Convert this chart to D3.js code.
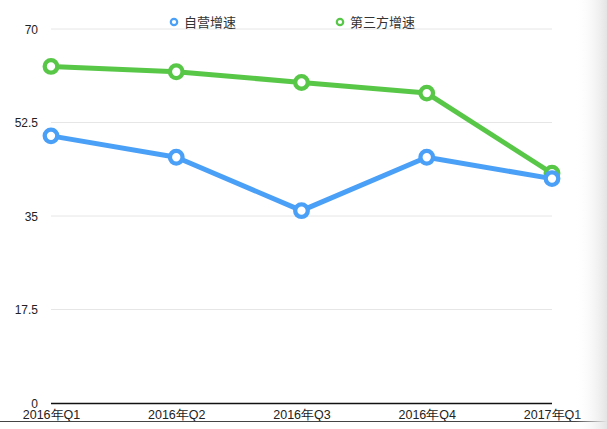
<!DOCTYPE html>
<html><head><meta charset="utf-8">
<script src="https://cdn.jsdelivr.net/npm/d3@7"></script>
<style>
html,body{margin:0;padding:0;background:#fff;}
svg{display:block;font-family:"Liberation Sans","Noto Sans CJK SC",Arial,sans-serif;}
</style></head>
<body><svg id="c" width="607" height="429"></svg>
<script>
const categories = ["2016年Q1","2016年Q2","2016年Q3","2016年Q4","2017年Q1"];
const seriesNames = ["自营增速","第三方增速"];
const selfGrowth = [50, 46, 36, 46, 42];
const thirdGrowth = [63, 62, 60, 58, 43];
const yTicks = [0, 17.5, 35, 52.5, 70];
const colors = ["#4a9ff7", "#58c748"];

const svg = d3.select("#c");
const defs = svg.append("defs");
const grad = defs.append("linearGradient").attr("id","edge").attr("x1","0").attr("x2","1").attr("y1","0").attr("y2","0");
grad.append("stop").attr("offset","0").attr("stop-color","#fff").attr("stop-opacity",0);
grad.append("stop").attr("offset","1").attr("stop-color","#e4e4e4").attr("stop-opacity",1);

const x = d3.scalePoint().domain(categories).range([51, 552]).padding(0);
const y = d3.scaleLinear().domain([0, 70]).range([403, 29]);

// grid
svg.append("g").selectAll("line").data(yTicks.filter(d=>d>0)).join("line")
  .attr("x1",51).attr("x2",552).attr("y1",d=>y(d)).attr("y2",d=>y(d))
  .attr("stroke","#e6e6e6").attr("stroke-width",1);

// y axis labels
const yAxis = d3.axisLeft(y).tickValues(yTicks).tickSize(0).tickPadding(0).tickFormat(d=>String(d));
const ya = svg.append("g").attr("transform","translate(38,0.5)").call(yAxis);
ya.select(".domain").remove();
ya.selectAll("text").attr("font-size",12).attr("fill","#222").attr("font-family","Liberation Sans, Arial, sans-serif");

// x axis
const xAxis = d3.axisBottom(x).tickSize(0).tickPadding(0);
const xa = svg.append("g").attr("transform","translate(0,403)").call(xAxis);
xa.select(".domain").attr("stroke","#111").attr("stroke-width",1.3).attr("d","M51,0.5H552");
xa.selectAll("text").attr("font-size",12.5).attr("fill","#222").attr("dy","1.25em");

// bottom line
svg.append("line").attr("x1",0).attr("x2",607).attr("y1",421.5).attr("y2",421.5).attr("stroke","#444").attr("stroke-width",1.2);

// series
const data = [
  {name: seriesNames[1], values: thirdGrowth, color: colors[1]},
  {name: seriesNames[0], values: selfGrowth, color: colors[0]}
];
const line = d3.line().x((d,i)=>x(categories[i])).y(d=>y(d));
data.forEach(s=>{
  const g = svg.append("g");
  g.append("path").datum(s.values).attr("d",line).attr("fill","none")
    .attr("stroke",s.color).attr("stroke-width",5).attr("stroke-linejoin","round");
  g.selectAll("circle").data(s.values).join("circle")
    .attr("cx",(d,i)=>x(categories[i])).attr("cy",d=>y(d)).attr("r",6.3)
    .attr("fill","#fff").attr("stroke",s.color).attr("stroke-width",4.3);
});

// legend
const legendItems = [
  {name: seriesNames[0], color: colors[0], x: 174},
  {name: seriesNames[1], color: colors[1], x: 340}
];
const lg = svg.append("g");
legendItems.forEach(it=>{
  lg.append("circle").attr("cx",it.x).attr("cy",22).attr("r",3.2).attr("fill","#fff")
    .attr("stroke",it.color).attr("stroke-width",2.2);
  lg.append("text").attr("x",it.x+10).attr("y",22).attr("dy","0.35em")
    .attr("font-size",13).attr("fill","#333").attr("font-family","Noto Sans CJK SC, sans-serif").text(it.name);
});

// right edge shading
svg.append("rect").attr("x",575).attr("y",0).attr("width",32).attr("height",429).attr("fill","url(#edge)");
</script>
</body></html>
